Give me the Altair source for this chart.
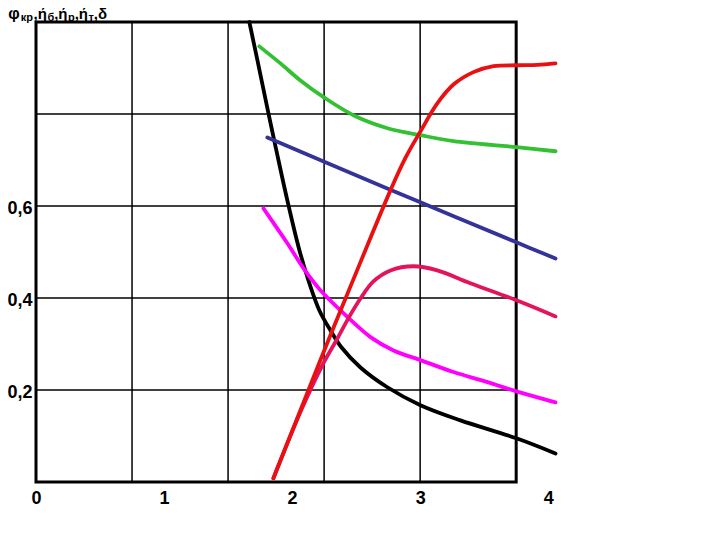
import altair as alt
import pandas as pd

# ---- data ----
black_x = [1.666, 1.729, 1.815, 1.877, 1.963, 2.057, 2.135, 2.213, 2.299, 2.385, 2.534, 2.744, 3.002, 3.315, 3.752, 4.057]
black_y = [1.000, 0.917, 0.802, 0.721, 0.612, 0.504, 0.432, 0.373, 0.330, 0.293, 0.249, 0.206, 0.167, 0.134, 0.095, 0.062]

green_x = [1.744, 1.909, 2.065, 2.260, 2.495, 2.745, 3.002, 3.260, 3.752, 4.057]
green_y = [0.947, 0.910, 0.873, 0.834, 0.795, 0.769, 0.754, 0.741, 0.728, 0.719]

blue_x = [1.807, 2.260, 3.002, 3.752, 4.057]
blue_y = [0.749, 0.695, 0.608, 0.521, 0.486]

magenta_x = [1.776, 1.963, 2.088, 2.221, 2.401, 2.612, 2.792, 3.002, 3.260, 3.526, 3.752, 4.057]
magenta_y = [0.595, 0.519, 0.465, 0.417, 0.367, 0.315, 0.286, 0.265, 0.239, 0.217, 0.197, 0.173]

crimson_x = [1.854, 2.065, 2.237, 2.354, 2.448, 2.534, 2.635, 2.768, 2.948, 3.134, 3.392, 3.752, 4.057]
crimson_y = [0.008, 0.152, 0.254, 0.312, 0.360, 0.399, 0.436, 0.460, 0.469, 0.460, 0.432, 0.395, 0.360]

red_x = [1.854, 2.065, 2.299, 2.534, 2.768, 2.886, 3.002, 3.134, 3.260, 3.416, 3.573, 3.752, 3.916, 4.057]
red_y = [0.008, 0.156, 0.319, 0.478, 0.634, 0.705, 0.762, 0.823, 0.864, 0.891, 0.904, 0.906, 0.907, 0.910]

series = [
    ("black", black_x, black_y, "#000000", 3.8),
    ("green", green_x, green_y, "#33c033", 3.8),
    ("blue", blue_x, blue_y, "#333399", 3.8),
    ("magenta", magenta_x, magenta_y, "#ff00ff", 3.8),
    ("crimson", crimson_x, crimson_y, "#e3135c", 3.8),
    ("red", red_x, red_y, "#e81010", 3.8),
]

grid_x = [0.75, 1.5, 2.25, 3.0]
grid_y = [0.2, 0.4, 0.6, 0.8]
box = {"x0": [0.0], "x1": [3.75], "y0": [0.0], "y1": [1.0]}
x_ticks = [0, 1, 2, 3, 4]
y_ticks = [0.2, 0.4, 0.6]

# title pieces: text, font size, x offset, y offset (relative to the plot's top-left corner)
title_text = ["φ", "кр", ",", "ή", "б", ",", "ή", "р", ",", "ή", "т", ",", "δ"]
title_size = [16, 11, 15, 15, 11, 15, 15, 11, 15, 15, 11, 15, 15]
title_dx = [-27.7, -15.2, -2.6, 1.8, 11.6, 18.2, 22.3, 32.1, 38.7, 42.8, 52.6, 57.8, 62.0]
title_dy = [-2.7, -1.2, -2.7, -2.7, -1.2, -2.7, -2.7, -1.2, -2.7, -2.7, -1.2, -2.7, -2.7]

FONT = "Liberation Sans"
xs = alt.Scale(domain=[0, 4.1], nice=False, zero=False)
ys = alt.Scale(domain=[0, 1.0], nice=False, zero=False)

x_axis = alt.Axis(values=x_ticks, grid=False, domain=False, ticks=False, tickSize=0, title=None,
                  labelPadding=7, labelFontSize=18, labelFont=FONT, labelFontWeight="bold",
                  labelColor="black", labelFlush=False, format="d")
y_axis = alt.Axis(values=y_ticks, grid=False, domain=False, ticks=False, tickSize=0, title=None,
                  labelPadding=4, labelFontSize=18, labelFont=FONT, labelFontWeight="bold",
                  labelColor="black", labelOffset=2,
                  labelExpr="replace(format(datum.value, '.1f'), '.', ',')")

vgrid = alt.Chart(pd.DataFrame({"gx": grid_x, "y0": [0.0] * 4, "y1": [1.0] * 4})).mark_rule(
    color="black", strokeWidth=1.5
).encode(
    x=alt.X("gx:Q", scale=xs, axis=x_axis),
    y=alt.Y("y0:Q", scale=ys, axis=y_axis),
    y2="y1:Q",
)

hgrid = alt.Chart(pd.DataFrame({"gy": grid_y, "x0": [0.0] * 4, "x1": [3.75] * 4})).mark_rule(
    color="black", strokeWidth=1.5
).encode(
    y=alt.Y("gy:Q", scale=ys, axis=y_axis),
    x=alt.X("x0:Q", scale=xs, axis=x_axis),
    x2="x1:Q",
)

border = alt.Chart(pd.DataFrame(box)).mark_rect(
    fill=None, stroke="black", strokeWidth=3, fillOpacity=0
).encode(
    x=alt.X("x0:Q", scale=xs, axis=x_axis), x2="x1:Q",
    y=alt.Y("y0:Q", scale=ys, axis=y_axis), y2="y1:Q",
)

layers = [vgrid, hgrid, border]
for name, sx, sy, col, w in series:
    df = pd.DataFrame({"x": sx, "y": sy})
    layers.append(
        alt.Chart(df).mark_line(color=col, strokeWidth=w, interpolate="catmull-rom", strokeCap="round").encode(
            x=alt.X("x:Q", scale=xs, axis=x_axis),
            y=alt.Y("y:Q", scale=ys, axis=y_axis),
        )
    )

anchor = pd.DataFrame({"a": [0]})
for t, s, dx, dy in zip(title_text, title_size, title_dx, title_dy):
    layers.append(
        alt.Chart(anchor).mark_text(
            text=t, fontSize=s, font=FONT, fontWeight="bold", color="black",
            align="left", baseline="alphabetic"
        ).encode(x=alt.value(dx), y=alt.value(dy))
    )

chart = alt.layer(*layers).properties(
    width=525, height=460,
    padding={"left": 28, "top": 14, "right": 10, "bottom": 40},
    autosize=alt.AutoSizeParams(type="none"),
    background="white",
).configure_view(stroke=None)

chart.save("out.html", embed_options={"renderer": "svg", "actions": False})
